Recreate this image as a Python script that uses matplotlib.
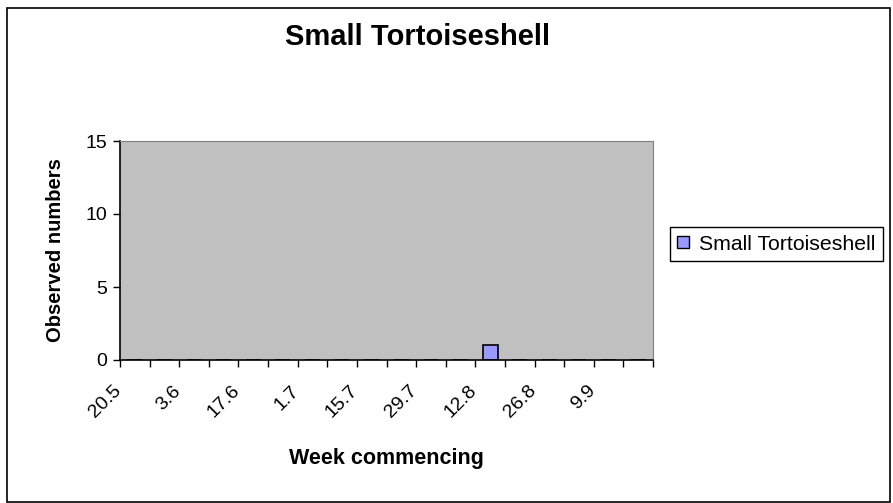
import matplotlib
matplotlib.use("Agg")
import matplotlib.pyplot as plt
import matplotlib.transforms as mtransforms
from matplotlib.patches import Rectangle, Patch
import numpy as np

# ==========================================
# DATA
# ==========================================

weeks = ['20.5', '27.5', '3.6', '10.6', '17.6', '24.6', '1.7', '8.7', '15.7',
         '22.7', '29.7', '5.8', '12.8', '19.8', '26.8', '2.9', '9.9', '16.9']
counts = [0, 0, 0, 0, 0, 0, 0, 0, 0, 0, 0, 0, 1, 0, 0, 0, 0, 0]
series_name = 'Small Tortoiseshell'

plt.rcParams['font.family'] = ['Liberation Sans', 'DejaVu Sans']

# ==========================================
# FIGURE
# ==========================================

W, H = 893, 503
fig = plt.figure(figsize=(W / 100, H / 100), dpi=100)

ax = fig.add_axes([120 / W, 1 - 360 / H, 533 / W, 219 / H])
ax.set_facecolor('#C0C0C0')

x = np.arange(len(weeks))
ax.bar(x, counts, width=0.5, color='#9999FF', edgecolor='black', linewidth=1.2)

ax.set_xlim(-0.5, len(weeks) - 0.5)
ax.set_ylim(0, 15)
ax.set_yticks([0, 5, 10, 15])

# tick marks between categories, labels on every other one
ax.set_xticks(np.arange(len(weeks) + 1) - 0.5)
ax.set_xticklabels([])
ax.tick_params(axis='x', which='major', length=5, width=1, direction='out')
ax.set_xticks(x[::2], minor=True)
ax.set_xticklabels(weeks[::2], minor=True, rotation=45, ha='right', va='top',
                   fontsize=14)
ax.tick_params(axis='x', which='minor', length=0, pad=16)
shift = mtransforms.ScaledTranslation(-10 / 100, 0, fig.dpi_scale_trans)
for lab in ax.get_xticklabels(minor=True):
    lab.set_transform(lab.get_transform() + shift)
ax.tick_params(axis='y', length=5, width=1, labelsize=14, pad=4)

for s in ['top', 'right']:
    ax.spines[s].set_color('#808080')
for s in ['left', 'bottom']:
    ax.spines[s].set_color('black')
    ax.spines[s].set_linewidth(1.2)

ax.set_xlabel('Week commencing', fontsize=15.5, fontweight='bold', labelpad=19)
ax.set_ylabel('Observed numbers', fontsize=14.5, fontweight='bold', labelpad=15)

fig.text(418 / W, 1 - 37 / H, series_name, ha='center', va='center',
         fontsize=21, fontweight='bold')

# legend
handle = Patch(facecolor='#9999FF', edgecolor='black', linewidth=1)
leg = fig.legend([handle], [series_name], loc='center left',
                 bbox_to_anchor=(670 / W, 1 - 244 / H), fontsize=15.3,
                 fancybox=False, framealpha=1, edgecolor='black',
                 handlelength=0.55, handleheight=0.55, handletextpad=0.45,
                 borderpad=0.35, borderaxespad=0)
leg.get_frame().set_linewidth(1)

# outer border
fig.patches.append(Rectangle((7 / W, 1.5 / H), 883 / W, 493.5 / H,
                             transform=fig.transFigure, fill=False,
                             edgecolor='black', linewidth=1.2))

plt.savefig('out.png', dpi=100)
